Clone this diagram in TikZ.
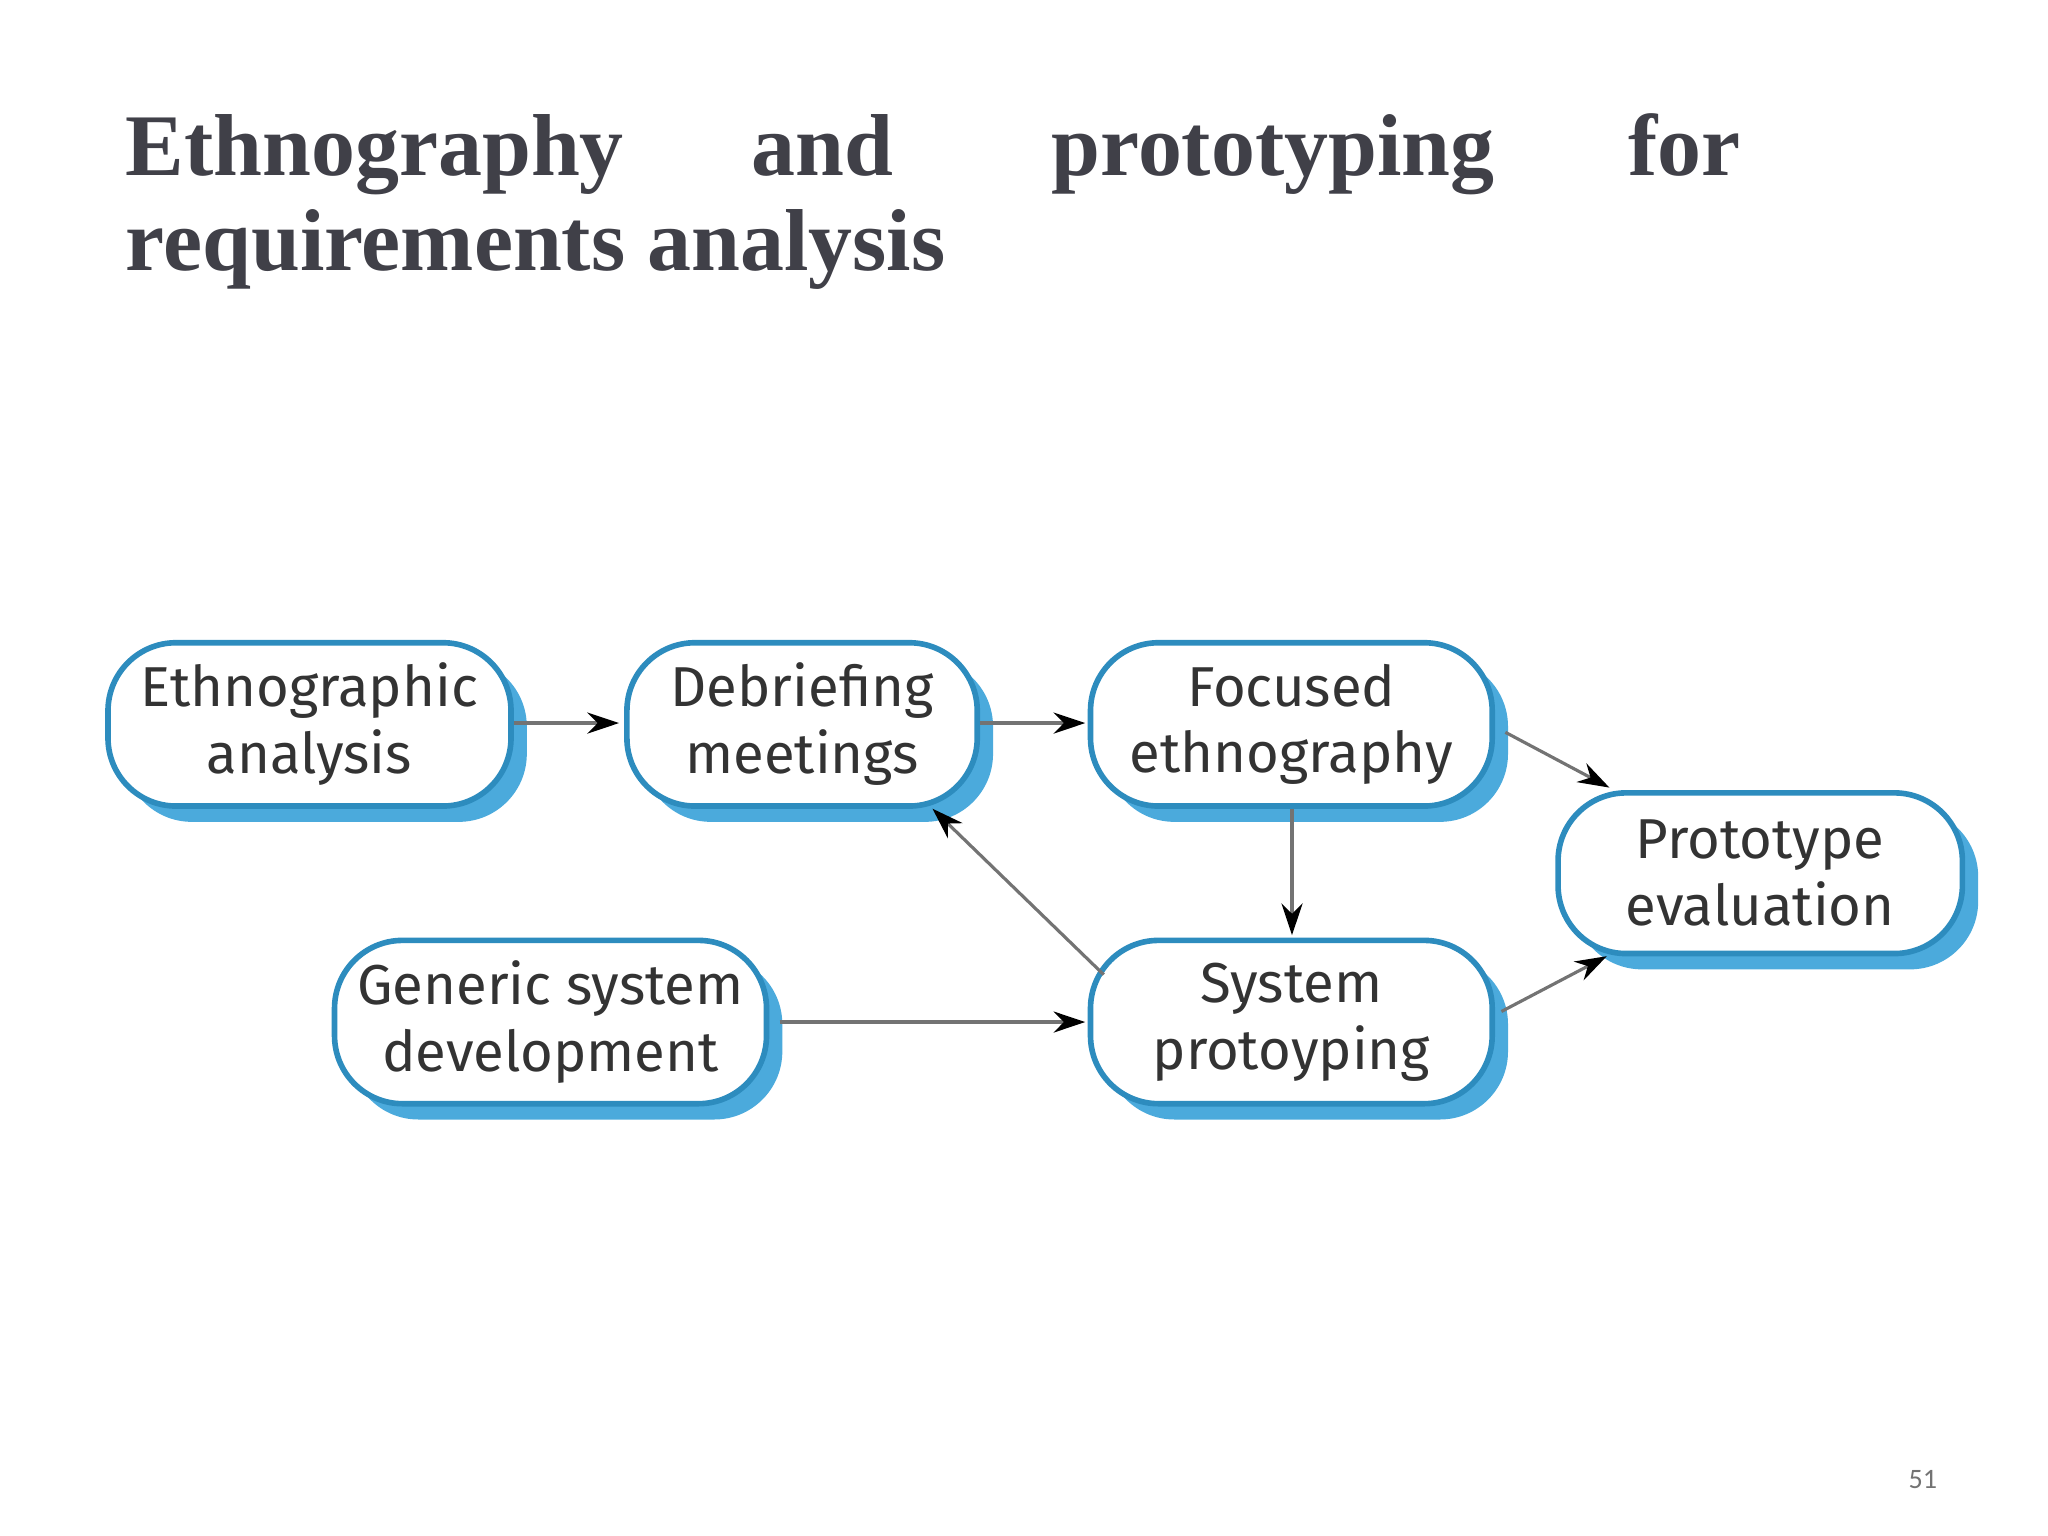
\documentclass[tikz,border=0pt]{standalone}
\usepackage{fontspec}
\setmainfont{Liberation Serif}
\newfontfamily\boxfont{Fira Sans}
\newfontfamily\numfont{Carlito}
\usetikzlibrary{arrows.meta}
\definecolor{bord}{RGB}{45,140,190}
\definecolor{shad}{RGB}{75,170,220}
\definecolor{titlec}{RGB}{64,64,72}
\tikzset{
  x=0.01317cm, y=-0.01317cm,
  pbox/.style={draw=bord, line width=1.6pt, fill=white, rounded corners=0.68cm},
  sbox/.style={fill=shad, rounded corners=0.68cm},
  lbl/.style={font=\boxfont\fontsize{16}{19}\selectfont, text=black!80, align=center},
  arr/.style={draw=black!55, line width=0.9pt, -{Stealth[length=9pt,width=6pt,color=black]}},
  ttl/.style={font=\fontsize{25}{30}\selectfont\bfseries, text=titlec, anchor=base west, inner sep=0}
}
\newcommand{\pbx}[6]{%
  \fill[sbox] (#2+12,#3+12) rectangle (#4+12,#5+12);
  \draw[pbox] (#2,#3) rectangle (#4,#5);
  \node[lbl] (#1) at ({(#2+#4)/2},{(#3+#5)/2}) {#6};
  \path (#2,#3) coordinate (#1nw) (#4,#5) coordinate (#1se);}
\begin{document}
\begin{tikzpicture}
\useasboundingbox (0,0) rectangle (1555,1166);
\node[ttl] (t1) at (95,133) {Ethnography};
\node[ttl] (t2) at (570,133) {and};
\node[ttl] (t3) at (798,133) {prototyping};
\node[ttl] (t4) at (1236,133) {for};
\node[ttl] (t5) at (95,205) {requirements analysis};
\node[font=\numfont\fontsize{8}{10}\selectfont, text=black!55] (pn) at (1460,1123) {51};

\pbx{ea}{82}{488}{388}{612}{Ethnographic\\analysis}
\pbx{dm}{476}{488}{742}{612}{Debriefing\\meetings}
\pbx{fe}{828}{488}{1133}{612}{Focused\\ethnography}
\pbx{pe}{1183}{602}{1490}{724}{Prototype\\evaluation}
\pbx{gs}{254}{714}{582}{838}{Generic system\\development}
\pbx{sp}{828}{714}{1133}{838}{System\\protoyping}

\coordinate (a1) at (390,549); \coordinate (a2) at (470,549);
\coordinate (b1) at (744,549); \coordinate (b2) at (824,549);
\coordinate (c1) at (1143,556); \coordinate (c2) at (1222,598);
\coordinate (d1) at (981,614); \coordinate (d2) at (981,710);
\coordinate (e1) at (838,740); \coordinate (e2) at (708,614);
\coordinate (f1) at (592,776); \coordinate (f2) at (824,776);
\coordinate (g1) at (1140,768); \coordinate (g2) at (1220,726);
\draw[arr] (a1) -- (a2);
\draw[arr] (b1) -- (b2);
\draw[arr] (c1) -- (c2);
\draw[arr] (d1) -- (d2);
\draw[arr] (e1) -- (e2);
\draw[arr] (f1) -- (f2);
\draw[arr] (g1) -- (g2);
\end{tikzpicture}
\end{document}
